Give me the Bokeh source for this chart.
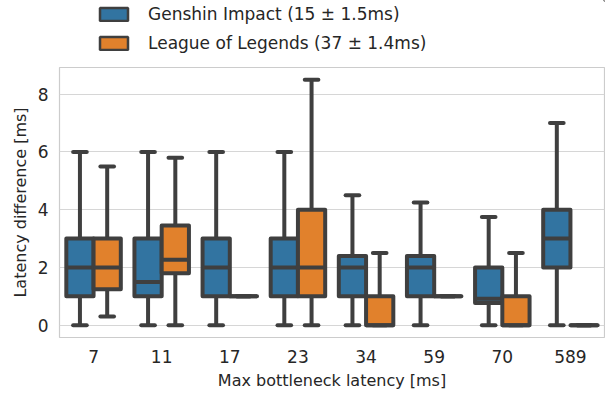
from bokeh.plotting import figure
from bokeh.layouts import column
from bokeh.models import ColumnDataSource, FactorRange, Range1d, FixedTicker, Legend, LegendItem
from bokeh.transform import dodge
from bokeh.embed import file_html
from bokeh.resources import INLINE

cats = ["7", "11", "17", "23", "34", "59", "70", "589"]

gi_lo = [0, 0, 0, 0, 0, 0, 0, 0]
gi_q1 = [1, 1, 1, 1, 1, 1, 0.77, 2]
gi_med = [2, 1.5, 2, 2, 2, 2, 0.92, 3]
gi_q3 = [3, 3, 3, 3, 2.4, 2.4, 2, 4]
gi_hi = [6, 6, 6, 6, 4.5, 4.25, 3.75, 7]

lol_lo = [0.3, 0, 1, 0, 0, 1, 0, 0]
lol_q1 = [1.25, 1.8, 1, 1, 0, 1, 0, 0]
lol_med = [2, 2.27, 1, 2, 0, 1, 0, 0]
lol_q3 = [3, 3.45, 1, 4, 1, 1, 1, 0]
lol_hi = [5.5, 5.8, 1, 8.5, 2.5, 1, 2.5, 0]

series_names = ["Genshin Impact (15 \u00b1 1.5ms)", "League of Legends (37 \u00b1 1.4ms)"]
colors = ["#3274a1", "#e1812c"]
y_ticks = [0, 2, 4, 6, 8]

EDGE = "#3f3f3f"
TEXT = "#262626"
FONT = "DejaVu Sans"

W = 605
LEG_H = 60
MAIN_H = 333

p = figure(width=W, height=MAIN_H, x_range=FactorRange(*cats), y_range=Range1d(-0.425, 8.925),
           output_backend="svg", toolbar_location=None,
           min_border_left=59, min_border_right=1, min_border_top=7, min_border_bottom=56)
p.outline_line_color = "#cccccc"
p.outline_line_width = 1.2
p.background_fill_color = "white"
p.xgrid.grid_line_color = None
p.ygrid.grid_line_color = "#d6d6d6"
p.ygrid.grid_line_width = 1.2
p.yaxis.ticker = FixedTicker(ticks=y_ticks)

for ax in (p.xaxis[0], p.yaxis[0]):
    ax.axis_line_color = None
    ax.major_tick_line_color = None
    ax.minor_tick_line_color = None
    ax.major_tick_out = 0
    ax.major_tick_in = 0
    ax.minor_tick_out = 0
    ax.major_label_text_font = FONT
    ax.major_label_text_font_size = "17px"
    ax.major_label_text_color = TEXT
    ax.axis_label_text_font = FONT
    ax.axis_label_text_font_size = "16px"
    ax.axis_label_text_font_style = "normal"
    ax.axis_label_text_color = TEXT
p.xaxis.axis_label = "Max bottleneck latency [ms]"
p.yaxis.axis_label = "Latency difference [ms]"
p.xaxis.major_label_standoff = 12
p.yaxis.major_label_standoff = 11
p.xaxis.axis_label_standoff = 5
p.yaxis.axis_label_standoff = 5

# legend holder figure
lf = figure(width=W, height=LEG_H, x_range=Range1d(0, 1), y_range=Range1d(0, 1),
            output_backend="svg", toolbar_location=None,
            x_axis_location=None, y_axis_location=None,
            min_border_left=0, min_border_right=0, min_border_top=0, min_border_bottom=0)
lf.outline_line_color = None
lf.xgrid.grid_line_color = None
lf.ygrid.grid_line_color = None

legend_items = []
series = [
    (gi_lo, gi_q1, gi_med, gi_q3, gi_hi, -0.2),
    (lol_lo, lol_q1, lol_med, lol_q3, lol_hi, 0.2),
]
for (lo, q1, med, q3, hi, off), col, name in zip(series, colors, series_names):
    src = ColumnDataSource(dict(cat=cats, lo=lo, q1=q1, med=med, q3=q3, hi=hi))
    xc = dodge("cat", off, range=p.x_range)
    p.segment(x0=xc, x1=xc, y0="lo", y1="q1", source=src, line_color=EDGE, line_width=4)
    p.segment(x0=xc, x1=xc, y0="q3", y1="hi", source=src, line_color=EDGE, line_width=4)
    for yk in ("lo", "hi"):
        p.segment(x0=dodge("cat", off - 0.1, range=p.x_range), x1=dodge("cat", off + 0.1, range=p.x_range),
                  y0=yk, y1=yk, source=src, line_color=EDGE, line_width=4, line_cap="round")
    p.vbar(x=xc, width=0.4, bottom="q1", top="q3", source=src, fill_color=col,
           line_color=EDGE, line_width=4, line_join="round")
    p.segment(x0=dodge("cat", off - 0.2, range=p.x_range), x1=dodge("cat", off + 0.2, range=p.x_range),
              y0="med", y1="med", source=src, line_color=EDGE, line_width=4)
    # legend swatch renderer, placed outside the legend figure's visible range
    dummy = lf.vbar(x=[5], width=0.1, bottom=[5], top=[6], fill_color=col, line_color=EDGE, line_width=2.5)
    legend_items.append(LegendItem(label=name, renderers=[dummy]))

legend = Legend(items=legend_items, location=(37, 7), orientation="vertical",
                border_line_color=None, background_fill_alpha=0, padding=0, margin=0,
                spacing=9, glyph_width=35, glyph_height=16, label_standoff=17,
                label_text_font=FONT, label_text_font_size="17px", label_text_color=TEXT)
lf.add_layout(legend, "center")

layout = column(lf, p, spacing=0)
open("out.html", "w").write(file_html(layout, INLINE))
